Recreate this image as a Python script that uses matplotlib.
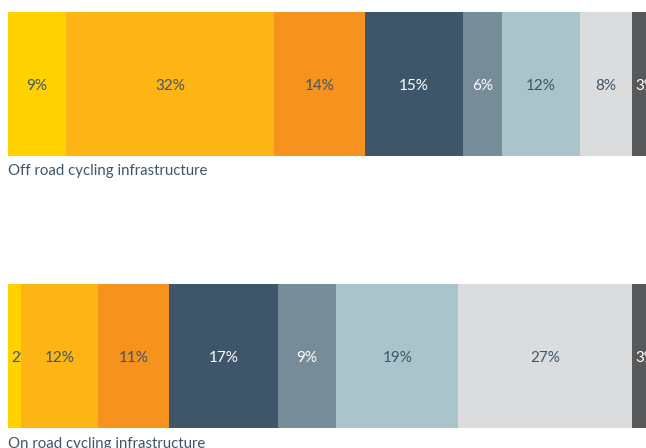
import numpy as np
import matplotlib.pyplot as plt

rows = ['Off road cycling infrastructure', 'On road cycling infrastructure']
off_road = [9, 32, 14, 15, 6, 12, 8, 3]
on_road = [2, 12, 11, 17, 9, 19, 27, 3]
colors = ['#FFD100', '#FDB515', '#F6921E', '#3F566A', '#778C99', '#AAC4CB', '#DBDCDE', '#58595B']
text_colors = ['#3F566A', '#3F566A', '#3F566A', 'white', 'white', '#3F566A', '#3F566A', 'white']

W, H = 646, 448
fig = plt.figure(figsize=(W / 100, H / 100), dpi=100)

# bars are normalised to 100 each; the right end runs off the figure
bar_left = 8
bar_width = 643.4
bar_boxes = [(12, 156), (284, 428)]

for vals, name, (y0, y1) in zip([off_road, on_road], rows, bar_boxes):
    ax = fig.add_axes([bar_left / W, 1 - y1 / H, bar_width / W, (y1 - y0) / H])
    vals = np.array(vals, dtype=float)
    share = vals / vals.sum() * 100
    lefts = np.concatenate([[0], np.cumsum(share)[:-1]])
    bars = ax.barh(0, share, left=lefts, color=colors, height=1, linewidth=0)
    for v, l, s, tc, patch in zip(vals, lefts, share, text_colors, bars):
        # narrow segments: label starts at left edge and gets clipped
        if s < 4:
            x, dx, ha = l, 2.5, 'left'
        else:
            x, dx, ha = l + s / 2, 0, 'center'
        t = ax.annotate(f'{int(v)}%', (x, -0.045), xytext=(dx, 0),
                        textcoords='offset points', ha=ha, va='baseline',
                        color=tc, fontsize=11, family='Lato')
        t.set_clip_path(patch)
    ax.set_xlim(0, 100)
    ax.set_ylim(-0.5, 0.5)
    ax.axis('off')
    fig.text(bar_left / W, 1 - (y1 + 19.5) / H, name, ha='left', va='baseline',
             color='#3F566A', fontsize=10.8, family='Lato')

fig.savefig('out.png', dpi=100)
